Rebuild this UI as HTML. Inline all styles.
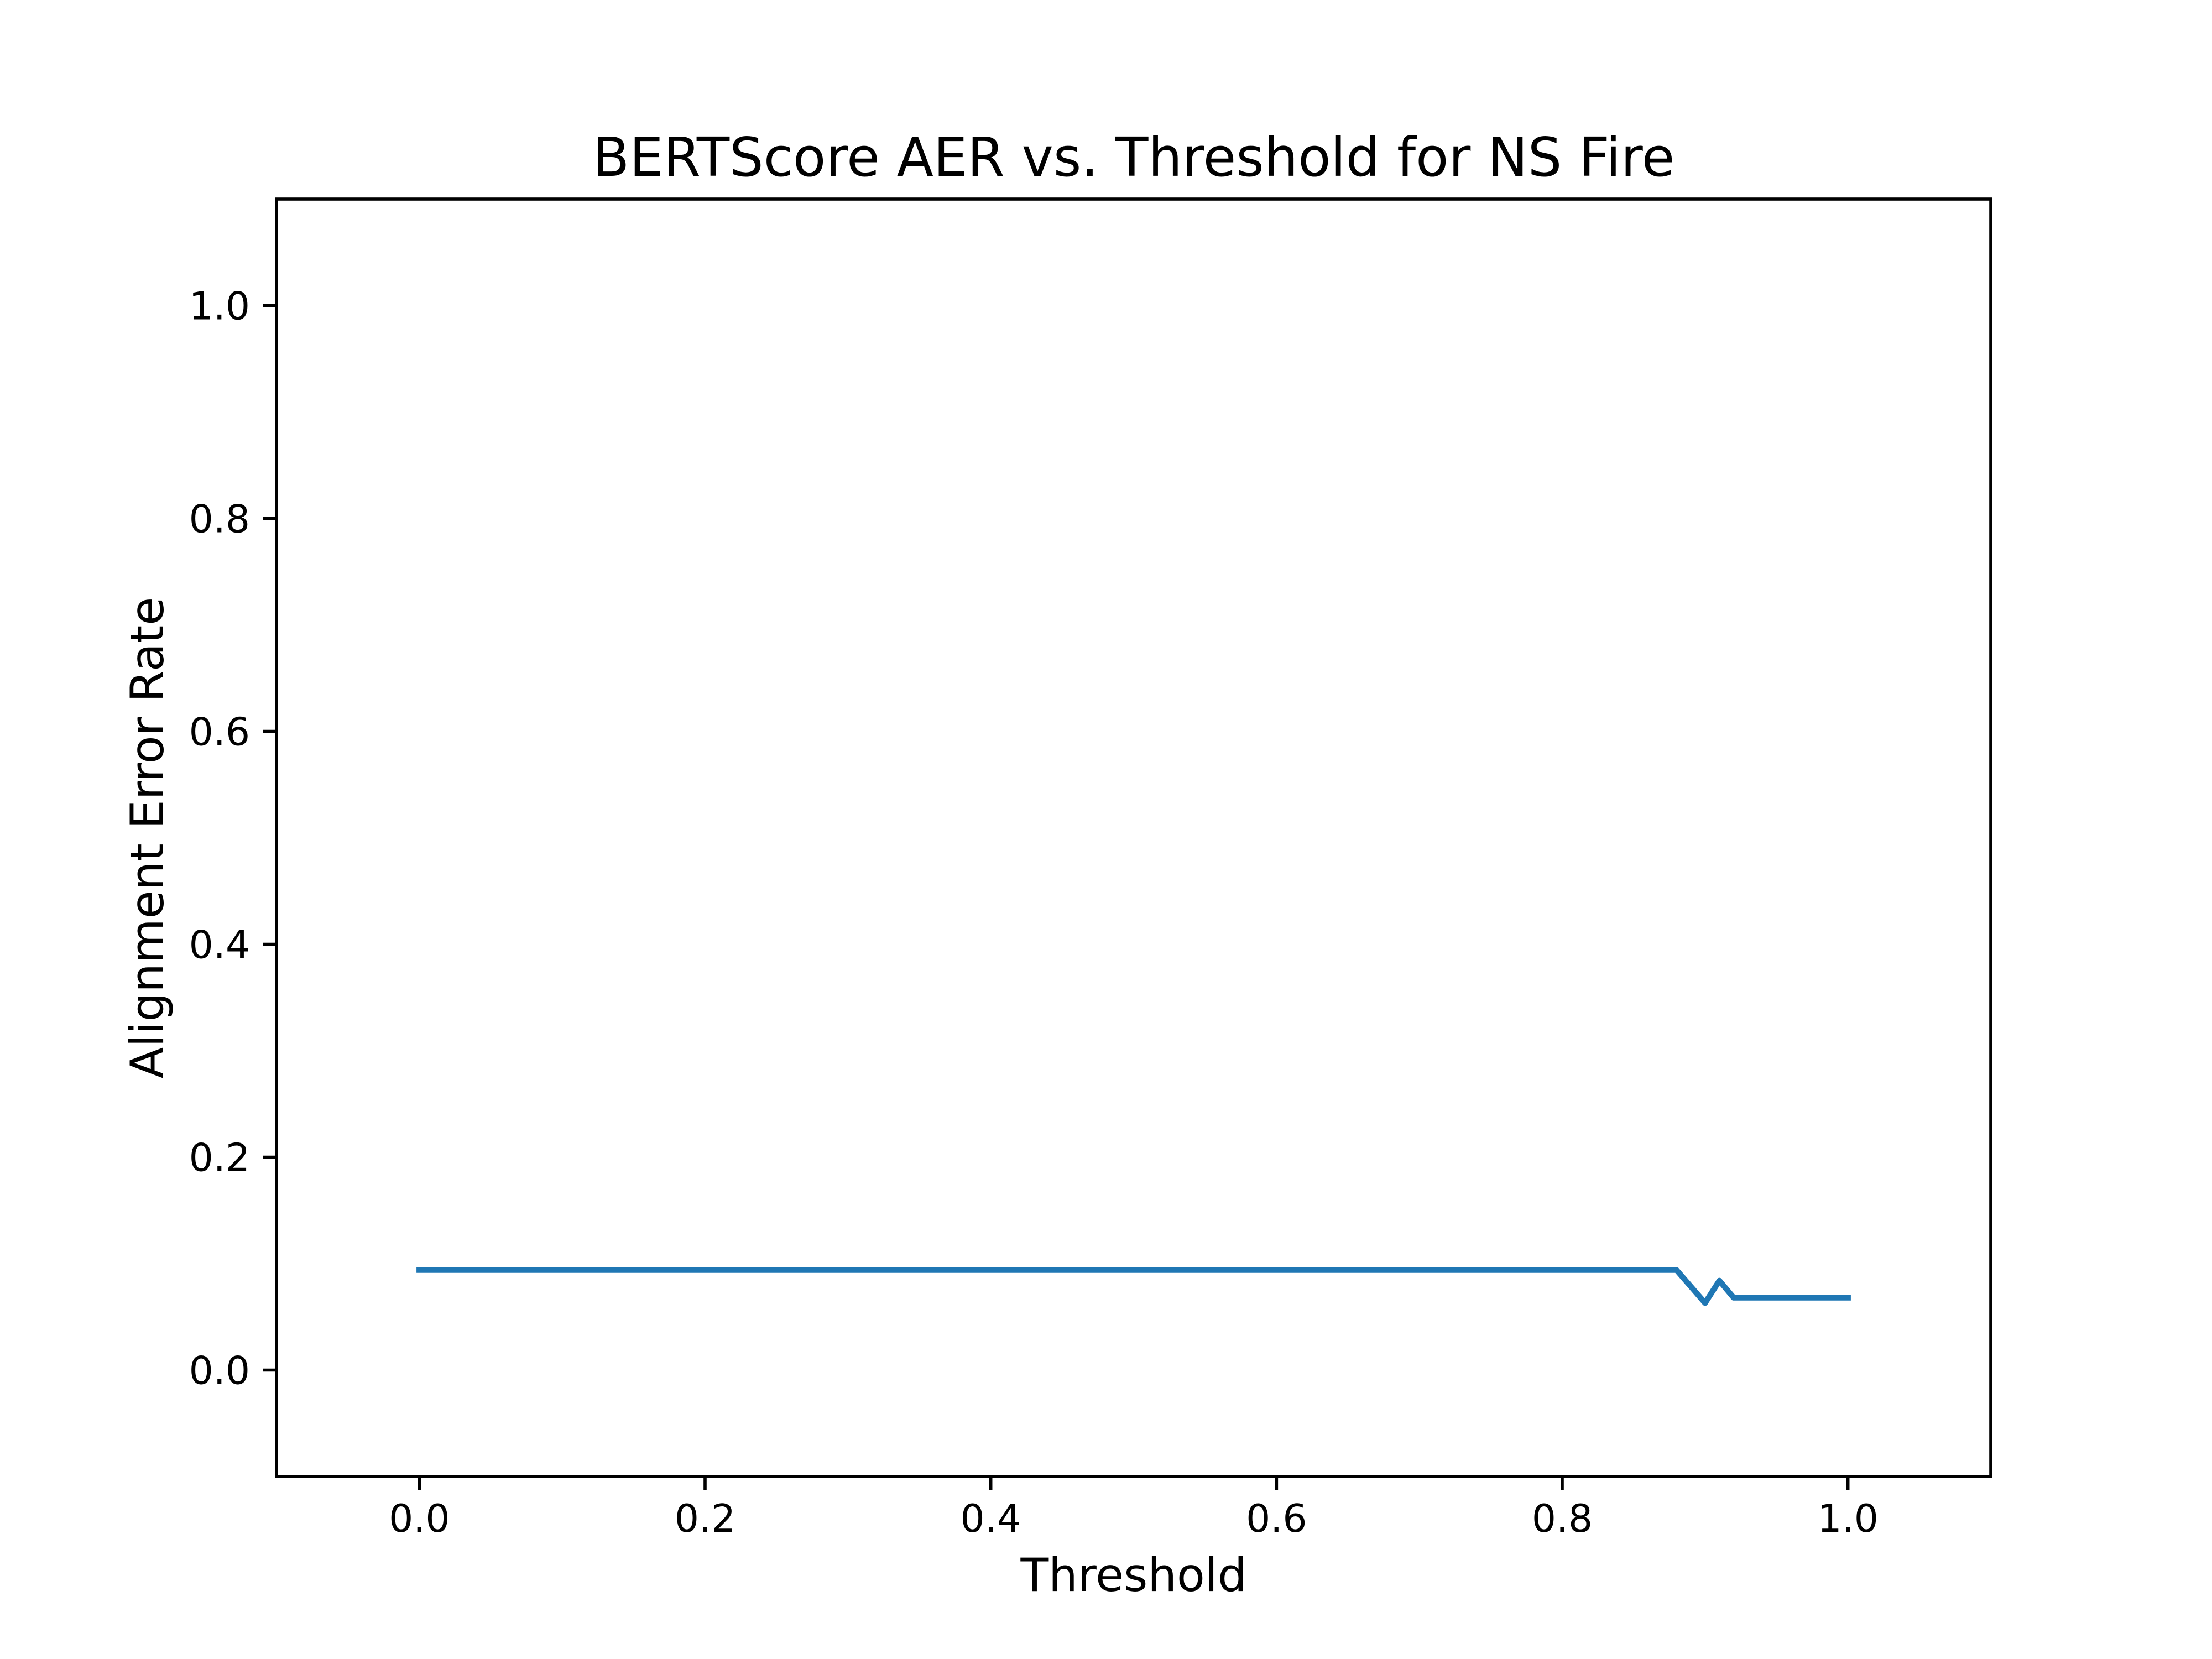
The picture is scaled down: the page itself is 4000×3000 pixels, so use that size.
<!DOCTYPE html>
<html><head><meta charset="utf-8"><style>body{margin:0;background:#fff}svg{display:block}text{font-family:"DejaVu Sans","Liberation Sans",sans-serif;fill:#000}</style></head>
<body>
<svg id="chart" width="4000" height="3000" viewBox="0 0 4000 3000" xmlns="http://www.w3.org/2000/svg">
<rect width="4000" height="3000" fill="#fff"/>
<text x="2050" y="318" font-size="97" text-anchor="middle">BERTScore AER vs. Threshold for NS Fire</text>
<text x="2050" y="2877" font-size="83" text-anchor="middle">Threshold</text>
<text x="0" y="0" font-size="83" text-anchor="middle" transform="translate(295,1515) rotate(-90)">Alignment Error Rate</text>
<g id="ticks"></g>
<path id="series" fill="none" stroke="#1f77b4" stroke-width="10.4" stroke-linejoin="round" stroke-linecap="square"/>
<rect x="500" y="360" width="3100" height="2310" fill="none" stroke="#000" stroke-width="5.6"/>
</svg>
<script>
const thresholds = [0,0.01,0.02,0.03,0.04,0.05,0.06,0.07,0.08,0.09,0.1,0.11,0.12,0.13,0.14,0.15,0.16,0.17,0.18,0.19,0.2,0.21,0.22,0.23,0.24,0.25,0.26,0.27,0.28,0.29,0.3,0.31,0.32,0.33,0.34,0.35,0.36,0.37,0.38,0.39,0.4,0.41,0.42,0.43,0.44,0.45,0.46,0.47,0.48,0.49,0.5,0.51,0.52,0.53,0.54,0.55,0.56,0.57,0.58,0.59,0.6,0.61,0.62,0.63,0.64,0.65,0.66,0.67,0.68,0.69,0.7,0.71,0.72,0.73,0.74,0.75,0.76,0.77,0.78,0.79,0.8,0.81,0.82,0.83,0.84,0.85,0.86,0.87,0.88,0.89,0.9,0.91,0.92,0.93,0.94,0.95,0.96,0.97,0.98,0.99,1.0];
const aerValues = [0.094,0.094,0.094,0.094,0.094,0.094,0.094,0.094,0.094,0.094,0.094,0.094,0.094,0.094,0.094,0.094,0.094,0.094,0.094,0.094,0.094,0.094,0.094,0.094,0.094,0.094,0.094,0.094,0.094,0.094,0.094,0.094,0.094,0.094,0.094,0.094,0.094,0.094,0.094,0.094,0.094,0.094,0.094,0.094,0.094,0.094,0.094,0.094,0.094,0.094,0.094,0.094,0.094,0.094,0.094,0.094,0.094,0.094,0.094,0.094,0.094,0.094,0.094,0.094,0.094,0.094,0.094,0.094,0.094,0.094,0.094,0.094,0.094,0.094,0.094,0.094,0.094,0.094,0.094,0.094,0.094,0.094,0.094,0.094,0.094,0.094,0.094,0.094,0.094,0.0785,0.063,0.084,0.068,0.068,0.068,0.068,0.068,0.068,0.068,0.068,0.068];
const xTicks = [0,0.2,0.4,0.6,0.8,1.0];
const xTickLabels = ["0.0","0.2","0.4","0.6","0.8","1.0"];
const yTicks = [0,0.2,0.4,0.6,0.8,1.0];
const yTickLabels = ["0.0","0.2","0.4","0.6","0.8","1.0"];
const X0=500,X1=3600,Y0=2670,Y1=360,XMIN=-0.1,XMAX=1.1,YMIN=-0.1,YMAX=1.1;
const xs=v=>X0+(v-XMIN)/(XMAX-XMIN)*(X1-X0);
const ys=v=>Y0-(v-YMIN)/(YMAX-YMIN)*(Y0-Y1);
const NS="http://www.w3.org/2000/svg";
const g=document.getElementById('ticks');
function mk(t,a){const e=document.createElementNS(NS,t);for(const k in a)e.setAttribute(k,a[k]);g.appendChild(e);return e;}
xTicks.forEach((v,i)=>{
  const l=mk('line',{x1:xs(v),x2:xs(v),y1:Y0,y2:Y0+24,stroke:'#000','stroke-width':5.6});
  
  
  const t=mk('text',{x:xs(v),y:Y0+100,'font-size':69.4,'text-anchor':'middle'});
  t.textContent=xTickLabels[i];
  
  
});
yTicks.forEach((v,i)=>{
  const l=mk('line',{x1:X0-24,x2:X0,y1:ys(v),y2:ys(v),stroke:'#000','stroke-width':5.6});
  
  
  const t=mk('text',{x:X0-48,y:ys(v)+25,'font-size':69.4,'text-anchor':'end'});
  t.textContent=yTickLabels[i];
  
  
});
document.getElementById('series').setAttribute('d',thresholds.map((x,i)=>(i?'L':'M')+xs(x).toFixed(1)+','+ys(aerValues[i]).toFixed(1)).join(''));
</script>
</body></html>
